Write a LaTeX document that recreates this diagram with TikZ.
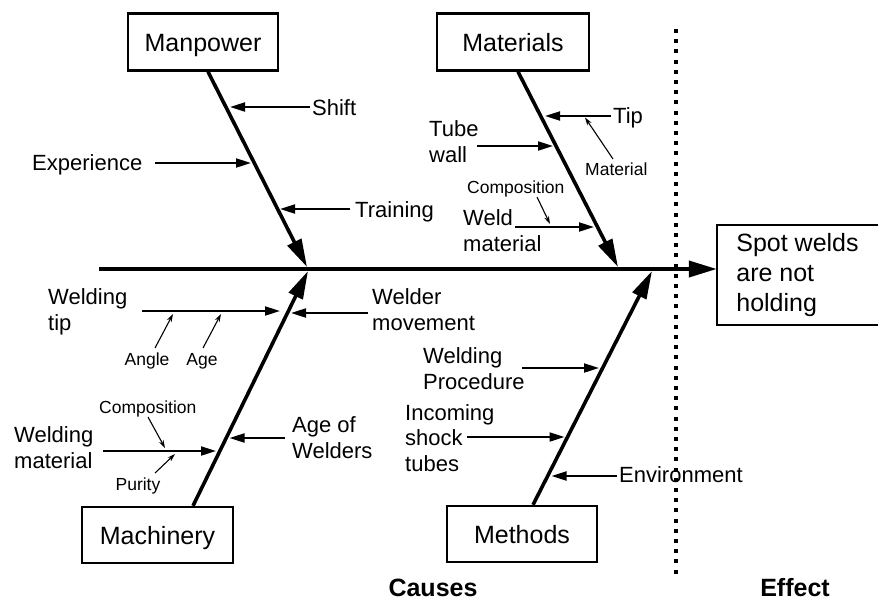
\documentclass[tikz,border=0pt]{standalone}
\usepackage{fontspec}
\setmainfont{Liberation Sans}
\usetikzlibrary{arrows.meta}
\begin{document}
\begin{tikzpicture}[x=1pt,y=-1pt,
  lbl/.style={inner sep=0pt, font=\fontsize{22}{25.5}\selectfont, align=left},
  sml/.style={inner sep=0pt, font=\fontsize{17.5}{20}\selectfont},
  box/.style={draw, line width=2.4pt, font=\fontsize{25}{30}\selectfont, minimum width=150pt, minimum height=57pt, text height=20pt, text depth=2pt, inner sep=0pt},
  bone/.style={line width=3.6pt, -{Triangle[length=28pt,width=15pt]}},
  spine/.style={line width=3.8pt, -{Triangle[length=28pt,width=16pt]}},
  sub/.style={line width=2pt, -{Triangle[length=15pt,width=9pt]}},
  tiny/.style={line width=1.1pt, -{Stealth[length=8pt,width=5pt]}},
  hdr/.style={inner sep=0pt, font=\fontsize{25}{30}\selectfont\bfseries},
]
\useasboundingbox (0,0) rectangle (878,600);

% dotted divider
\coordinate (divT) at (676,29);
\coordinate (divB) at (676,577);
\draw[line width=3.4pt, dash pattern=on 4pt off 6.2pt] (divT) -- (divB);

% effect box (open at the right edge of the picture)
\node[inner sep=0pt, minimum width=161pt, minimum height=100pt, align=left,
      font=\fontsize{25}{30}\selectfont] (effect) at (797.5,275) {Spot welds\\are not\\holding};
\draw[line width=2.4pt] (effect.north east) -- (effect.north west) -- (effect.south west) -- (effect.south east);

% spine
\coordinate (spL) at (99,269);
\draw[spine] (spL) -- (spL -| effect.west);

% category boxes
\node[box] (manpower) at (203,42) {Manpower};
\node[box, minimum width=152pt] (materials) at (513,42) {Materials};
\node[box, minimum width=151pt, minimum height=56pt] (machinery) at (157.5,535) {Machinery};
\node[box, minimum height=56pt] (methods) at (522,534) {Methods};

% bone ends on spine
\coordinate (mpE) at (307,267);
\coordinate (maE) at (618,267);
\coordinate (mcE) at (308,271);
\coordinate (meE) at (652,271);

\draw[bone] ([xshift=5pt]manpower.south) -- (mpE);
\draw[bone] ([xshift=5pt]materials.south) -- (maE);
\draw[bone] ([xshift=35.5pt]machinery.north) -- (mcE);
\draw[bone] ([xshift=11pt]methods.north) -- (meE);

% ---------- Manpower ----------
\node[lbl, anchor=base west] (shift) at (312,115) {Shift};
\node[lbl, anchor=base west] (exper) at (32,170) {Experience};
\node[lbl, anchor=base west] (train) at (355,217) {Training};
\coordinate (b1) at (230,107);
\coordinate (b2) at (251,163);
\coordinate (b3) at (280,209);
\draw[sub] ([shift={(-2,-8)}]shift.base west) -- (b1);
\draw[sub] ([shift={(123,-7)}]exper.base west) -- (b2);
\draw[sub] ([shift={(-5,-8)}]train.base west) -- (b3);

% ---------- Materials ----------
\node[lbl, anchor=base west] (tip) at (613,123) {Tip};
\node[lbl, anchor=base west] (tube) at (429,162) {Tube\\wall};
\node[sml, anchor=base west] (matl) at (585,175) {Material};
\node[sml, anchor=base west] (comp1) at (467,193) {Composition};
\node[lbl, anchor=base west] (weld) at (463,251) {Weld\\material};
\coordinate (b4) at (545,116);
\coordinate (b5) at (553,146);
\coordinate (b6) at (594,227);
\coordinate (t1) at (585,117.5);
\coordinate (t2) at (550,224);
\draw[sub] ([shift={(-2,-7)}]tip.base west) -- (b4);
\draw[sub] ([shift={(48,-16)}]tube.base west) -- (b5);
\draw[sub] ([shift={(52,-24)}]weld.base west) -- (b6);
\draw[tiny] ([shift={(28,-16)}]matl.base west) -- (t1);
\draw[tiny] ([shift={(70,4)}]comp1.base west) -- (t2);

% ---------- Machinery ----------
\node[lbl, anchor=base west] (wtip) at (48,330) {Welding\\tip};
\node[sml, anchor=base] (angle) at (147,365) {Angle};
\node[sml, anchor=base] (age) at (202,365) {Age};
\node[lbl, anchor=base west] (wmove) at (372,330) {Welder\\movement};
\node[sml, anchor=base west] (comp2) at (99,413) {Composition};
\node[lbl, anchor=base west] (wmat) at (14,468) {Welding\\material};
\node[sml, anchor=base] (purity) at (138,490) {Purity};
\node[lbl, anchor=base west] (agew) at (292,458) {Age of\\Welders};
\coordinate (b7) at (280,311);
\coordinate (b8) at (291,313);
\coordinate (b9) at (216,451);
\coordinate (b10) at (229.5,438);
\coordinate (t3) at (173,314);
\coordinate (t4) at (221,314);
\coordinate (t5) at (165,448);
\coordinate (t6) at (175,454);
\draw[sub] ([shift={(94,-19)}]wtip.base west) -- (b7);
\draw[sub] ([shift={(-4,-17)}]wmove.base west) -- (b8);
\draw[sub] ([shift={(89,-17)}]wmat.base west) -- (b9);
\draw[sub] ([shift={(-7,-20)}]agew.base west) -- (b10);
\draw[tiny] ([shift={(8,-17)}]angle.base) -- (t3);
\draw[tiny] ([shift={(1,-17)}]age.base) -- (t4);
\draw[tiny] ([shift={(49,4)}]comp2.base west) -- (t5);
\draw[tiny] ([shift={(17,-17)}]purity.base) -- (t6);

% ---------- Methods ----------
\node[lbl, anchor=base west] (wproc) at (423,389) {Welding\\Procedure};
\node[lbl, anchor=base west] (incom) at (405,471) {Incoming\\shock\\tubes};
\node[lbl, anchor=base west] (envir) at (619,482) {Environment};
\coordinate (b11) at (599,368);
\coordinate (b12) at (564.5,437);
\coordinate (b13) at (551.5,476);
\draw[sub] ([shift={(99,-21)}]wproc.base west) -- (b11);
\draw[sub] ([shift={(62,-34)}]incom.base west) -- (b12);
\draw[sub] ([shift={(-2,-6)}]envir.base west) -- (b13);

% headings
\node[hdr, anchor=base] (causes) at (433,596) {Causes};
\node[hdr, anchor=base] (effhdr) at (795,596) {Effect};
\end{tikzpicture}
\end{document}
